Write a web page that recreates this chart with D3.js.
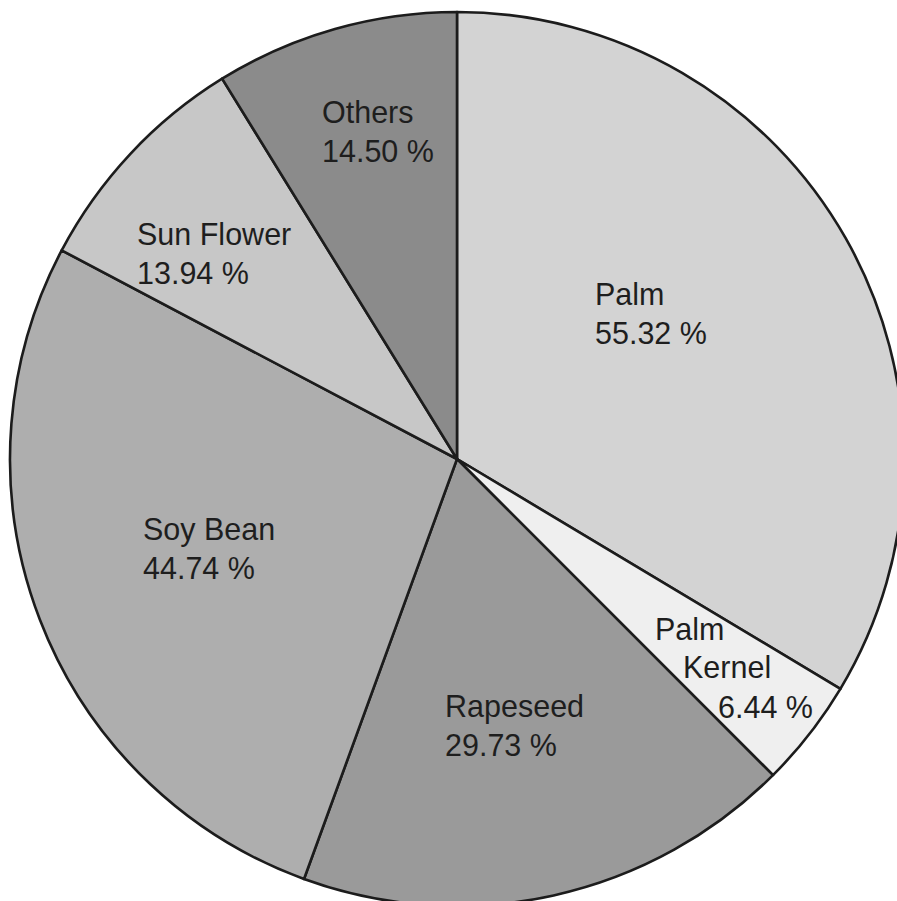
<!DOCTYPE html>
<html>
<head>
<meta charset="utf-8">
<script src="https://cdn.jsdelivr.net/npm/d3@7"></script>
<style>
  html, body { margin: 0; padding: 0; background: #fff; overflow: hidden; }
  svg { display: block; }
</style>
</head>
<body>
<script>
// Vegetable oil shares by source
const categories = ["Palm", "Palm Kernel", "Rapeseed", "Soy Bean", "Sun Flower", "Others"];
const values = [55.32, 6.44, 29.73, 44.74, 13.94, 14.50];
const labelLines = [["Palm"], ["Palm", "Kernel"], ["Rapeseed"], ["Soy Bean"], ["Sun Flower"], ["Others"]];

// Slice fills (grey scale)
const fills = ["#d3d3d3", "#efefef", "#9a9a9a", "#aeaeae", "#c7c7c7", "#8b8b8b"];

// Label anchors (first-line baseline, relative to pie centre), one or more per slice
const labelAnchors = [
  [[138, -154]],
  [[198, 181], [226, 219], [261, 259]],
  [[-12, 258]],
  [[-314, 81]],
  [[-320, -214]],
  [[-135, -336]]
];

const width = 897, height = 901;
const cx = 457, cy = 459, radius = 447;
const lineGap = 38.5;

const svg = d3.select("body").append("svg")
  .attr("width", width)
  .attr("height", height);

const data = categories.map((c, i) => ({ name: c, value: values[i], lines: labelLines[i], fill: fills[i], anchors: labelAnchors[i] }));

const pie = d3.pie().sort(null).value(d => d.value);
const arc = d3.arc().innerRadius(0).outerRadius(radius);

const g = svg.append("g").attr("transform", `translate(${cx},${cy})`);

g.selectAll("path.slice")
  .data(pie(data))
  .join("path")
  .attr("class", "slice")
  .attr("d", arc)
  .attr("fill", d => d.data.fill)
  .attr("stroke", "#1c1c1c")
  .attr("stroke-width", 2.6)
  .attr("stroke-linejoin", "round");

const fmt = d3.format(".2f");

const labels = g.selectAll("g.label")
  .data(data)
  .join("g")
  .attr("class", "label");

labels.each(function (d) {
  const lines = d.lines.concat([fmt(d.value) + " %"]);
  const sel = d3.select(this);
  lines.forEach((t, k) => {
    const a = d.anchors.length > 1 ? d.anchors[k] : [d.anchors[0][0], d.anchors[0][1] + k * lineGap];
    sel.append("text")
      .attr("x", a[0])
      .attr("y", a[1])
      .attr("font-family", "'Liberation Sans', Arial, sans-serif")
      .attr("font-size", 30.5)
      .attr("fill", "#1e1e1e")
      .text(t);
  });
});
</script>
</body>
</html>
